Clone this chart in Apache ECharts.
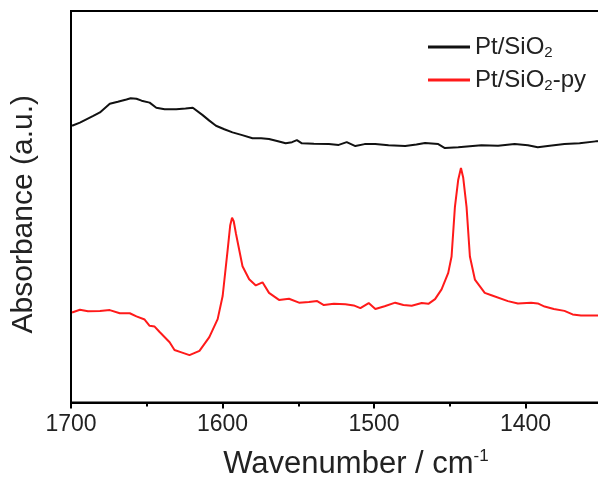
<!DOCTYPE html>
<html>
<head>
<meta charset="utf-8">
<script src="https://cdn.jsdelivr.net/npm/echarts@6/dist/echarts.min.js"></script>
<style>html,body{margin:0;padding:0;background:#fff;overflow:hidden}#c{width:680px;height:485px}</style>
</head>
<body>
<div id="c"></div>
<script>
var xTicks = [1700, 1600, 1500, 1400];
var seriesNames = ['Pt/SiO2', 'Pt/SiO2-py'];

var blackWn = [1699.3,1694.1,1685.3,1680.9,1674.4,1669.1,1663.4,1660.6,1656.8,1653.4,1648.1,1643.7,1638.2,1630.6,1624.4,1619.6,1613.1,1608.7,1604.3,1598.8,1593.4,1587.0,1580.2,1574.5,1569.3,1564.0,1558.3,1554.1,1550.9,1547.6,1539.7,1529.8,1523.3,1518.0,1512.3,1506.2,1499.2,1490.4,1479.4,1472.0,1466.3,1457.6,1453.2,1444.4,1429.1,1418.1,1407.2,1398.4,1391.9,1384.0,1374.3,1364.3,1353.7,1348.0];
var blackAbs = [0.707,0.715,0.732,0.741,0.763,0.768,0.774,0.777,0.776,0.771,0.766,0.753,0.749,0.749,0.751,0.753,0.734,0.720,0.707,0.698,0.690,0.683,0.675,0.675,0.673,0.668,0.662,0.665,0.670,0.662,0.661,0.660,0.658,0.665,0.655,0.660,0.660,0.657,0.655,0.659,0.663,0.660,0.650,0.652,0.657,0.656,0.660,0.657,0.652,0.656,0.660,0.662,0.667,0.668];

var redWn = [1699.3,1694.1,1688.8,1680.9,1674.4,1667.8,1661.2,1656.8,1651.4,1648.1,1644.8,1641.5,1634.9,1631.7,1627.1,1621.8,1615.2,1608.7,1603.2,1599.9,1596.6,1594.9,1593.7,1592.6,1591.1,1586.8,1582.4,1578.0,1573.6,1569.3,1562.7,1556.1,1549.5,1543.0,1537.5,1533.1,1526.5,1518.9,1513.4,1509.0,1503.5,1499.1,1493.0,1486.0,1480.6,1475.1,1468.5,1464.1,1459.7,1455.4,1451.0,1448.8,1446.6,1444.4,1442.6,1441.1,1438.9,1436.7,1433.4,1426.9,1422.5,1411.6,1405.0,1396.3,1391.9,1387.4,1381.3,1374.3,1368.9,1363.4,1353.7,1348.0];
var redAbs = [0.230,0.237,0.233,0.234,0.236,0.228,0.228,0.220,0.212,0.196,0.194,0.180,0.154,0.134,0.128,0.121,0.132,0.167,0.213,0.272,0.390,0.453,0.472,0.463,0.431,0.348,0.315,0.299,0.307,0.280,0.262,0.265,0.255,0.257,0.259,0.249,0.252,0.251,0.248,0.241,0.254,0.239,0.246,0.255,0.249,0.247,0.254,0.252,0.264,0.289,0.331,0.373,0.499,0.569,0.599,0.574,0.499,0.373,0.314,0.280,0.274,0.259,0.253,0.255,0.253,0.245,0.239,0.234,0.225,0.222,0.222,0.222];

function pairs(xs, ys) { return xs.map(function (x, i) { return [x, ys[i]]; }); }

var FONT = "'Liberation Sans', Arial, sans-serif";
var chart = echarts.init(document.getElementById('c'), null, {renderer: 'canvas'});
chart.setOption({
  animation: false,
  backgroundColor: '#fff',
  grid: {left: 71, right: 0, top: 11, bottom: 77, show: true, borderColor: '#000', borderWidth: 2, backgroundColor: 'transparent'},
  legend: {
    orient: 'vertical', left: 423, top: 30, itemGap: 8,
    itemWidth: 42, itemHeight: 3, icon: 'rect',
    data: seriesNames,
    formatter: function (n) {
      return n === 'Pt/SiO2' ? '{a|Pt/SiO}{s|2}' : '{a|Pt/SiO}{s|2}{a|-py}';
    },
    textStyle: {
      color: '#222', fontFamily: FONT,
      rich: {
        a: {fontSize: 24, fontFamily: FONT, color: '#222', lineHeight: 26},
        s: {fontSize: 15, fontFamily: FONT, color: '#222', verticalAlign: 'bottom', lineHeight: 26}
      }
    }
  },
  xAxis: {
    type: 'value', inverse: true, min: 1300, max: 1700, interval: 100,
    axisLine: {show: true, lineStyle: {color: '#000', width: 2}},
    axisTick: {show: true, length: 6, lineStyle: {color: '#000', width: 2}},
    minorTick: {show: true, splitNumber: 2, length: 4, lineStyle: {color: '#000', width: 2}},
    splitLine: {show: false},
    axisLabel: {fontSize: 23, color: '#222', fontFamily: FONT, margin: 11,
      formatter: function (v) { return xTicks.indexOf(v) >= 0 ? String(v) : ''; }},
    name: '{a|Wavenumber / cm}{b|-1}',
    nameLocation: 'middle', nameGap: 45,
    nameTextStyle: {
      padding: [0, 36, 0, 0],
      rich: {
        a: {fontSize: 31, fontFamily: FONT, color: '#222', lineHeight: 34},
        b: {fontSize: 17, fontFamily: FONT, color: '#222', verticalAlign: 'top', lineHeight: 34}
      }
    }
  },
  yAxis: {
    type: 'value', min: 0, max: 1,
    axisLine: {show: true, lineStyle: {color: '#000', width: 2}},
    axisTick: {show: false}, axisLabel: {show: false}, splitLine: {show: false},
    name: 'Absorbance (a.u.)', nameLocation: 'middle', nameGap: 32,
    nameTextStyle: {fontSize: 30, fontFamily: FONT, color: '#222', padding: [0, 15, 0, 0]}
  },
  series: [
    {name: seriesNames[0], type: 'line', symbol: 'none', data: pairs(blackWn, blackAbs),
     lineStyle: {color: '#111', width: 2}, itemStyle: {color: '#111'}},
    {name: seriesNames[1], type: 'line', symbol: 'none', data: pairs(redWn, redAbs),
     lineStyle: {color: '#ff1a1a', width: 2}, itemStyle: {color: '#ff1a1a'}}
  ]
});
</script>
</body>
</html>
